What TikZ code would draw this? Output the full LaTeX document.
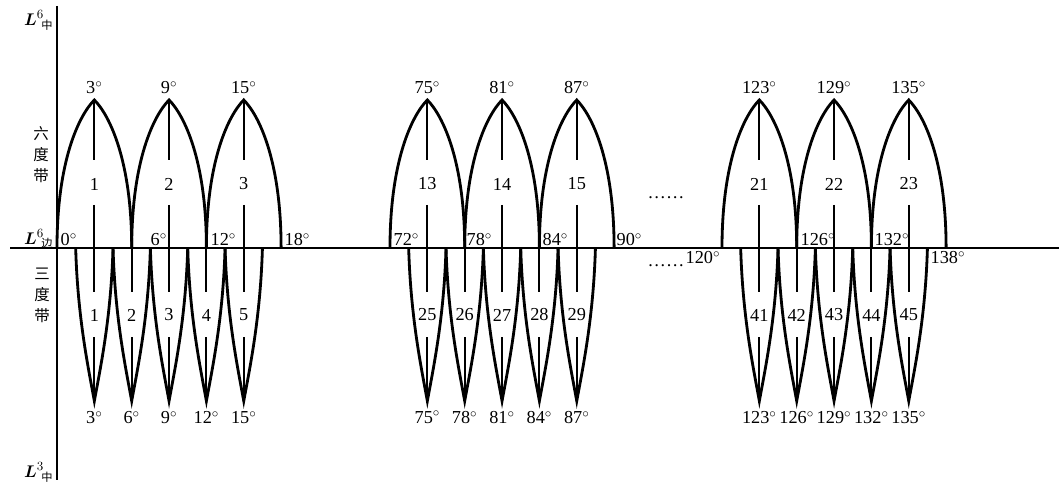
\documentclass[tikz,border=0pt]{standalone}
\usepackage{amsmath,amssymb}
\usepackage{fontspec}
\setmainfont{Liberation Serif}
\newfontfamily\cjk{Noto Sans CJK SC}
\usetikzlibrary{positioning}

\begin{document}
\begin{tikzpicture}[x=0.025cm,y=0.025cm,
  arch/.style={line width=2pt},
  mid/.style={line width=1.3pt},
  lbl/.style={font=\fontsize{13}{15}\selectfont,inner sep=1pt},
  zone/.style={font=\cjk\fontsize{11}{15}\selectfont,align=center,inner sep=0pt}]
\useasboundingbox (0,0) rectangle (1059,488);
% axes
\draw[line width=1.8pt] (10,240) -- (1059,240);
\draw[line width=1.8pt] (57,482) -- (57,8);
\node[lbl,anchor=east] (Ltop) at (55,468) {$\boldsymbol{L}^{6}\!{}_{\text{\cjk\footnotesize 中}}$};
\node[lbl,anchor=east] (Ledge) at (55,249) {$\boldsymbol{L}^{6}\!{}_{\text{\cjk\footnotesize 边}}$};
\node[lbl,anchor=east] (Lbot) at (55,16) {$\boldsymbol{L}^{3}\!{}_{\text{\cjk\footnotesize 中}}$};
\node[zone] (six) at (41,333) {六\\度\\带};
\node[zone] (three) at (42,193) {三\\度\\带};

% three groups of zones
\foreach \xo/\dd/\ns/\nt in {57/0/1/1,390/72/13/25,722/120/21/41}{
  \foreach \k in {0,1,2}{
    \pgfmathsetmacro\xa{\xo+6*\k*12.45}
    \pgfmathsetmacro\xp{\xa+3*12.45}
    \pgfmathsetmacro\xb{\xa+6*12.45}
    \pgfmathtruncatemacro\dg{\dd+6*\k+3}
    \pgfmathtruncatemacro\nz{\ns+\k}
    \draw[arch] (\xa,240) .. controls (\xa,328) and (\xp-15,373) .. (\xp,388)
                .. controls (\xp+15,373) and (\xb,328) .. (\xb,240);
    \draw[mid] (\xp,388) -- (\xp,328) (\xp,283) -- (\xp,240);
    \node[lbl,above=3pt] (top\nz) at (\xp,388) {\dg$^\circ$};
    \node[lbl] (six\nz) at (\xp,304) {\nz};
  }
  \foreach \k in {0,...,4}{
    \pgfmathsetmacro\xc{\xo+(3*\k+3)*12.45}
    \pgfmathsetmacro\xa{\xc-1.5*12.45}
    \pgfmathsetmacro\xb{\xc+1.5*12.45}
    \pgfmathtruncatemacro\dg{\dd+3*\k+3}
    \pgfmathtruncatemacro\nz{\nt+\k}
    \draw[arch] (\xa,240) .. controls (\xa+2,170) and (\xc-6,120) .. (\xc,87)
                .. controls (\xc+6,120) and (\xb-2,170) .. (\xb,240);
    \draw[mid] (\xc,240) -- (\xc,196) (\xc,151) -- (\xc,87);
    \node[lbl,below=6pt] (tip\nz) at (\xc,87) {\dg$^\circ$};
    \node[lbl,fill=white] (three\nz) at (\xc,173) {\nz};
  }
}

% edge meridians
\foreach \x/\t/\a [count=\i] in {59/0/south west,149/6/south west,209/12/south west,
    283/18/south west,392/72/south west,465/78/south west,541/84/south west,
    615/90/south west,722/120/north east,799/126/south west,873/132/south west,
    948/138/north}{
  \node[lbl,anchor=\a] (edge\i) at (\x,\ifnum\t=120 238\else\ifnum\t=138 238\else 241\fi\fi) {\t$^\circ$};
}
\node[lbl] (dotsup) at (666,290) {\dots\dots};
\node[lbl] (dotsdn) at (666,222) {\dots\dots};
\end{tikzpicture}
\end{document}
